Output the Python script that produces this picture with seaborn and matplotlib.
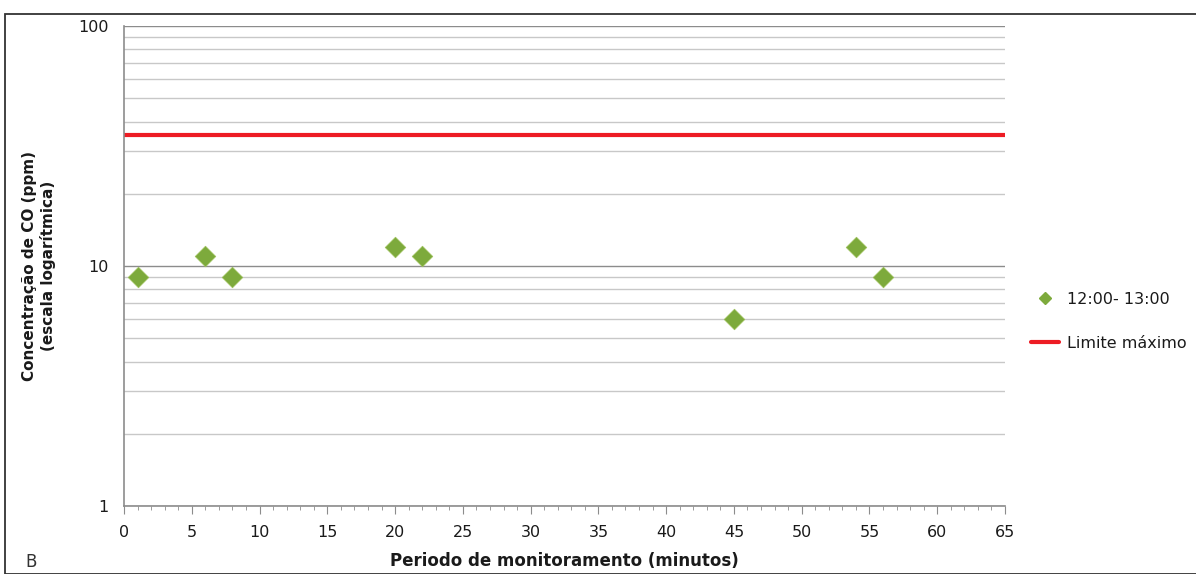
import matplotlib
matplotlib.use("Agg")
import matplotlib.pyplot as plt
import seaborn as sns
import pandas as pd
from matplotlib.ticker import FixedLocator, MultipleLocator, NullFormatter
from matplotlib.lines import Line2D
from matplotlib.patches import Rectangle

minutes = [1, 6, 8, 20, 22, 45, 54, 56]
co_ppm = [9, 11, 9, 12, 11, 6, 12, 9]
limit_ppm = 35
series_label = "12:00- 13:00"
limit_label = "Limite máximo"
x_ticks = list(range(0, 70, 5))
y_ticks = [1, 10, 100]

sns.set_style("white")
plt.rcParams['font.family'] = ['DejaVu Sans']

fig = plt.figure(figsize=(11.96, 5.74), dpi=100)
ax = fig.add_axes([124/1196, 1-506/574, (1005-124)/1196, (506-26)/574])

df = pd.DataFrame({"min": minutes, "co": co_ppm})
ax.set_yscale("log")
ax.set_ylim(1, 100)
ax.set_xlim(0, 65)

# grid
ax.yaxis.set_major_locator(FixedLocator(y_ticks))
minor = [m * d for d in (1, 10) for m in range(2, 10)]
ax.yaxis.set_minor_locator(FixedLocator(minor))
ax.yaxis.set_minor_formatter(NullFormatter())
ax.set_yticklabels([str(v) for v in y_ticks])
ax.grid(True, axis="y", which="major", color="#8c8c8c", lw=1.0, zorder=0)
ax.grid(True, axis="y", which="minor", color="#c8c8c8", lw=1.0, zorder=0)
ax.tick_params(axis="y", which="minor", length=0)
ax.tick_params(axis="y", which="major", length=6, color="#8c8c8c", labelsize=11.5, pad=5,
               labelcolor="#1a1a1a")

ax.axhline(limit_ppm, color="#ED1C24", lw=3, zorder=2)

sns.scatterplot(data=df, x="min", y="co", marker="D", s=110, color="#7DAA3C",
                edgecolor="#9CC05A", linewidth=0.5, ax=ax, zorder=3, legend=False)

ax.xaxis.set_major_locator(FixedLocator(x_ticks))
ax.xaxis.set_minor_locator(MultipleLocator(1))
ax.set_xticklabels([str(v) for v in x_ticks])
ax.tick_params(axis="x", which="major", length=6, color="#8c8c8c", labelsize=11.5, pad=8,
               bottom=True, labelcolor="#1a1a1a")
ax.tick_params(axis="x", which="minor", length=3, color="#8c8c8c", bottom=True)

for s in ("top", "right"):
    ax.spines[s].set_visible(False)
for s in ("left", "bottom"):
    ax.spines[s].set_color("#8c8c8c")
    ax.spines[s].set_linewidth(1.2)

ax.set_xlabel("Periodo de monitoramento (minutos)", fontsize=12, fontweight="bold", labelpad=8,
              color="#1a1a1a")
ax.set_ylabel("Concentração de CO (ppm)\n(escala logarítmica)", fontsize=11, fontweight="bold",
              labelpad=16, color="#1a1a1a")

handles = [Line2D([], [], marker="D", ls="none", color="#7DAA3C", markersize=6),
           Line2D([], [], color="#ED1C24", lw=3)]
fig.legend(handles, [series_label, limit_label], loc="upper left",
           bbox_to_anchor=(1026/1196, 1-287/574), frameon=False, fontsize=11.5,
           handlelength=1.75, labelspacing=1.8, handletextpad=0.5, labelcolor="#1a1a1a",
           borderaxespad=0, borderpad=0.3)

fig.text(25/1196, 1-562/574, "B", fontsize=12, va="center", ha="left", color="#333333")
fig.patches.append(Rectangle((5/1196, 0), 1.2, 1-14/574, transform=fig.transFigure,
                             fill=False, edgecolor="#333333", lw=1.3))

fig.savefig("out.png", dpi=100)
